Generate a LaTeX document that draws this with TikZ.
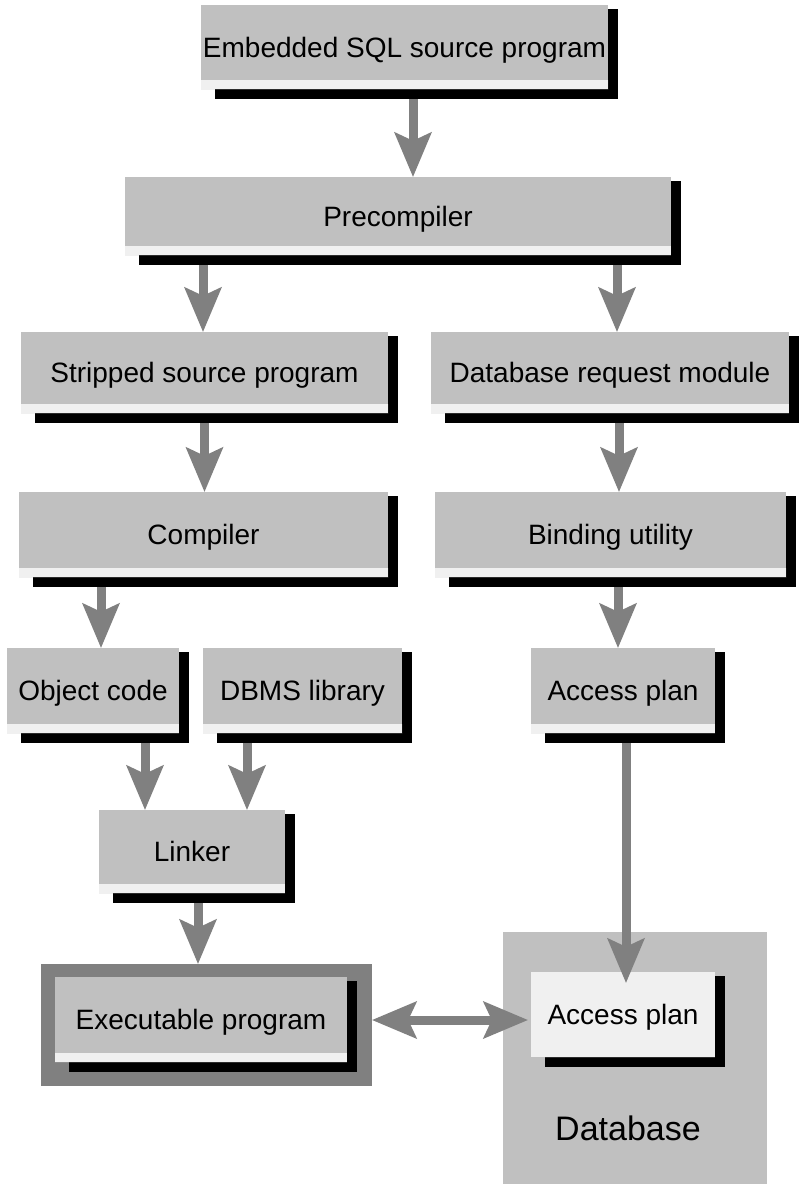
\documentclass[tikz,border=0pt]{standalone}
\usepackage{fontspec}
\setmainfont{Liberation Sans}
\usetikzlibrary{arrows.meta,calc,patterns.meta}

\definecolor{boxgray}{HTML}{C0C0C0}
\definecolor{arrowgray}{HTML}{808080}

\pgfdeclarelayer{bglayer}
\pgfdeclarelayer{shadowlayer}
\pgfsetlayers{bglayer,shadowlayer,main}

\tikzset{
    dither/.style={preaction={fill=white}, pattern={Dots[distance=2pt, radius=0.7pt]}, pattern color=boxgray},
    box/.style={fill=boxgray, inner sep=0pt, text height=20pt, text depth=0pt,
        font=\fontsize{28}{30}\selectfont,
        path picture={\fill[dither] (path picture bounding box.south west)
            rectangle ([yshift=9pt]path picture bounding box.south east);}},
    dotbox/.style={dither, inner sep=0pt, text height=20pt, text depth=0pt,
        font=\fontsize{28}{30}\selectfont},
    flow/.style={draw=arrowgray, line width=9pt,
        >={Stealth[length=45pt, width=38pt, inset=9pt, line width=0pt]}, ->},
}

\begin{document}
\begin{tikzpicture}[x=1pt, y=-1pt]
    \begin{pgfonlayer}{bglayer}
        \fill[white] (0,0) rectangle (800,1184);
        \node[fill=arrowgray, inner sep=0pt, minimum width=331pt, minimum height=122pt] (frame) at (206.5,1025) {};
        \node[fill=boxgray, inner sep=0pt, minimum width=264pt, minimum height=252pt] (db) at (635,1058) {};
    \end{pgfonlayer}
    \useasboundingbox (0,0) rectangle (800,1184);

    % left column
    \node[box, minimum width=407pt, minimum height=84pt] (src) at (404.5,47) {Embedded SQL source program};
    \node[box, minimum width=546pt, minimum height=78pt] (pre) at (398,216) {Precompiler};
    \node[box, minimum width=367pt, minimum height=81pt] (strip) at (204.5,372.5) {Stripped source program};
    \node[box, minimum width=369pt, minimum height=85pt] (comp) at (203.5,534.5) {Compiler};
    \node[box, minimum width=172pt, minimum height=85pt] (obj) at (93,690.5) {Object code};
    \node[box, minimum width=199pt, minimum height=85pt] (lib) at (302.5,690.5) {DBMS library};
    \node[box, minimum width=186pt, minimum height=83pt] (link) at (192,851.5) {Linker};
    \node[box, minimum width=292pt, minimum height=85pt] (exec) at (201,1019.5) {Executable program};

    % right column
    \node[box, minimum width=358pt, minimum height=81pt] (dbreq) at (610,372.5) {Database request module};
    \node[box, minimum width=351pt, minimum height=85pt] (bind) at (610.5,534.5) {Binding utility};
    \node[box, minimum width=184pt, minimum height=85pt] (plan) at (623,690.5) {Access plan};
    \node[dotbox, minimum width=184pt, minimum height=85pt] (dbplan) at (623,1014.5) {Access plan};
    \node[font=\fontsize{34}{36}\selectfont] (dbname) at (628,1128) {Database};

    % drop shadows
    \begin{pgfonlayer}{shadowlayer}
        \foreach \n in {src, pre, strip, comp, obj, lib, link, exec, dbreq, bind, plan, dbplan} {
            \fill[black] ($(\n.north west)+(14,4)$) rectangle ($(\n.south east)+(10,10)$);
        }
    \end{pgfonlayer}

    % arrows
    \draw[flow] ($(src.south)+(8.5,10)$) -- ($(src.south |- pre.north)+(8.5,0)$);
    \draw[flow] ($(pre.south)+(-195,10)$) -- ($(pre.south |- strip.north)+(-195,0)$);
    \draw[flow] ($(pre.south)+(219,10)$) -- ($(pre.south |- dbreq.north)+(219,0)$);
    \draw[flow] ($(strip.south)+(0,10)$) -- (strip.south |- comp.north);
    \draw[flow] ($(dbreq.south)+(9,10)$) -- ($(dbreq.south |- bind.north)+(9,0)$);
    \draw[flow] ($(comp.south)+(-102.5,10)$) -- ($(comp.south |- obj.north)+(-102.5,0)$);
    \draw[flow] ($(bind.south)+(7.5,10)$) -- ($(bind.south |- plan.north)+(7.5,0)$);
    \draw[flow] ($(obj.south)+(52,10)$) -- ($(obj.south |- link.north)+(52,0)$);
    \draw[flow] ($(lib.south)+(-55.5,10)$) -- ($(lib.south |- link.north)+(-55.5,0)$);
    \draw[flow] ($(link.south)+(6,10)$) -- ($(link.south |- frame.north)+(6,0)$);
    \draw[flow] ($(plan.south)+(3,10)$) -- ($(plan.south |- dbplan.north)+(3,11)$);
    \draw[flow, <->] ($(frame.east)+(0,-5)$) -- ($(frame.east -| dbplan.west)+(-3,-5)$);
\end{tikzpicture}
\end{document}
